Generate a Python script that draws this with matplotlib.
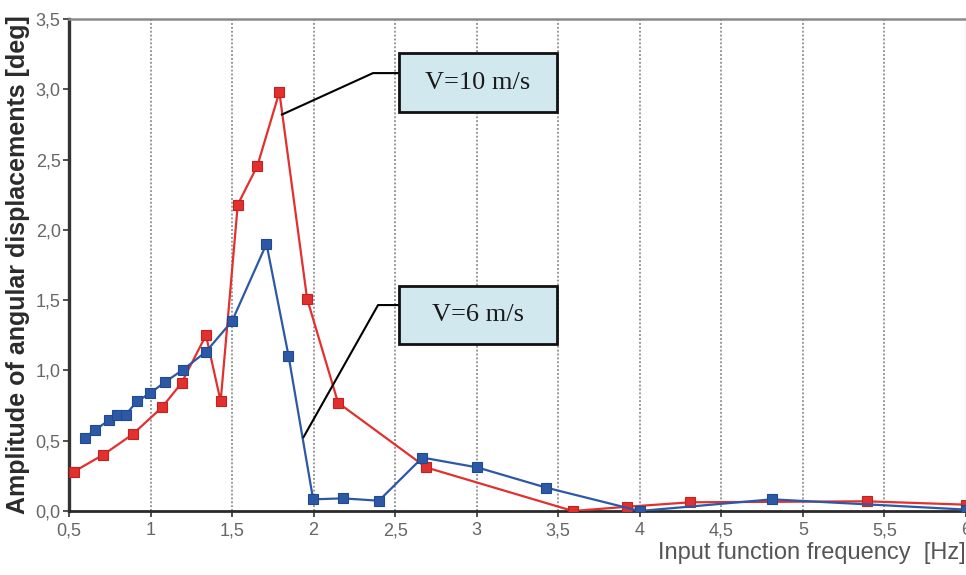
import matplotlib
matplotlib.use("Agg")
import matplotlib.pyplot as plt
from matplotlib.patches import Rectangle

# Amplitude of angular displacements vs. input frequency, two vehicle speeds
freq_v10 = [0.53, 0.71, 0.89, 1.07, 1.19, 1.34, 1.43, 1.535, 1.655, 1.79, 1.96,
            2.15, 2.69, 3.59, 3.92, 4.31, 5.39, 6.0]
amp_v10 = [0.28, 0.40, 0.545, 0.737, 0.91, 1.25, 0.78, 2.18, 2.455, 2.98, 1.51,
           0.77, 0.31, 0.0, 0.03, 0.062, 0.069, 0.045]

freq_v6 = [0.596, 0.661, 0.745, 0.796, 0.847, 0.918, 0.996, 1.086, 1.197, 1.34,
           1.50, 1.711, 1.846, 1.997, 2.18, 2.40, 2.667, 3.004, 3.427, 4.0, 4.81, 6.0]
amp_v6 = [0.52, 0.578, 0.645, 0.685, 0.685, 0.78, 0.837, 0.915, 1.003, 1.133,
          1.351, 1.90, 1.105, 0.083, 0.09, 0.073, 0.38, 0.31, 0.166, 0.0, 0.083, 0.01]

x_ticks = [0.5, 1, 1.5, 2, 2.5, 3, 3.5, 4, 4.5, 5, 5.5, 6]
x_tick_labels = ["0,5", "1", "1,5", "2", "2,5", "3", "3,5", "4", "4,5", "5", "5,5", "6"]
y_ticks = [0.0, 0.5, 1.0, 1.5, 2.0, 2.5, 3.0, 3.5]
y_tick_labels = ["0,0", "0,5", "1,0", "1,5", "2,0", "2,5", "3,0", "3,5"]

label_v10 = "V=10 m/s"
label_v6 = "V=6 m/s"

RED = "#e2302e"
BLUE = "#2d58a6"

fig = plt.figure(figsize=(9.66, 5.75), dpi=100)
ax = fig.add_axes([0.0714, 0.1113, 0.9286, 0.8557])

ax.set_xlim(0.5, 6.0)
ax.set_ylim(0.0, 3.5)

# vertical dotted grid
for xv in x_ticks[1:-1]:
    ax.axvline(xv, color="#9a9a9a", lw=1.4, ls=(0, (1, 1)), zorder=1)

ax.plot(freq_v10, amp_v10, color=RED, lw=1.6, marker="s", ms=7,
        mfc=RED, mec="#c42020", mew=0.8, zorder=3)
ax.plot(freq_v6, amp_v6, color=BLUE, lw=1.6, marker="s", ms=7,
        mfc=BLUE, mec="#1f4a90", mew=0.8, zorder=4)

# spines
ax.spines["left"].set_color("#333333")
ax.spines["left"].set_linewidth(2.4)
ax.spines["bottom"].set_color("#2a2a2a")
ax.spines["bottom"].set_linewidth(2.0)
ax.spines["top"].set_color("#8a8a8a")
ax.spines["top"].set_linewidth(1.8)
ax.spines["right"].set_color("#cccccc")
ax.spines["right"].set_linewidth(1.0)

ax.set_xticks(x_ticks)
ax.set_xticklabels(x_tick_labels)
ax.set_yticks(y_ticks)
ax.set_yticklabels(y_tick_labels)
ax.tick_params(axis="both", direction="out", length=4, width=1.2, color="#333333",
               labelsize=13, labelcolor="#666666")
for t in ax.get_xticklabels() + ax.get_yticklabels():
    t.set_fontfamily("Liberation Sans")
ax.tick_params(axis="x", pad=4)
ax.tick_params(axis="y", pad=2)

ax.set_ylabel("Amplitude of angular displacements [deg]", fontsize=18,
              fontweight="bold", color="#2b2b2b", family="Liberation Sans",
              labelpad=4)
ax.set_xlabel("Input function frequency  [Hz]", fontsize=17, color="#555555",
              family="Liberation Sans", loc="right", labelpad=2)


def callout(text, box_x0, box_x1, box_y0, box_y1, path_x, path_y):
    ax.plot(path_x, path_y, color="black", lw=1.5, zorder=5, clip_on=False,
            solid_capstyle="butt")
    ax.add_patch(Rectangle((box_x0, box_y0), box_x1 - box_x0, box_y1 - box_y0,
                           facecolor="#d2e8ef", edgecolor="#111111", lw=2.0,
                           zorder=6))
    ax.text((box_x0 + box_x1) / 2, (box_y0 + box_y1) / 2, text, ha="center",
            va="center", fontsize=19, family="Liberation Serif",
            color="#1a1a1a", zorder=7)


callout(label_v10, 2.523, 3.492, 2.838, 3.257,
        [2.523, 2.364, 1.80], [3.115, 3.115, 2.817])
callout(label_v6, 2.523, 3.492, 1.188, 1.600,
        [2.523, 2.395, 1.935], [1.465, 1.465, 0.519])

fig.savefig("out.png", dpi=100, facecolor="white")
